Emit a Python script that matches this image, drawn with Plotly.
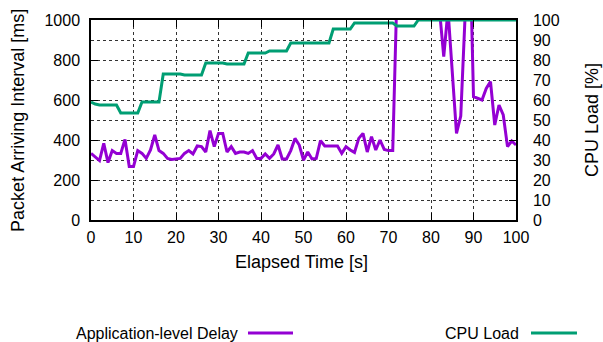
import plotly.graph_objects as go

time_s = list(range(0, 101))

delay_ms = [
    333, 315, 297, 383, 287, 347, 333, 333, 403, 267,
    267, 347, 333, 308, 350, 425, 347, 333, 308, 303,
    305, 308, 333, 347, 330, 370, 367, 340, 447, 367,
    433, 433, 340, 367, 333, 340, 340, 333, 347, 308,
    308, 330, 308, 330, 375, 305, 305, 347, 408, 375,
    300, 340, 305, 308, 397, 370, 370, 370, 370, 333,
    367, 350, 338, 408, 433, 340, 417, 350, 400, 353,
    347, 347, 1150, 1500, 1500, 1500, 1500, 1500, 1500, 1500,
    1500, 1500, 1050, 817, 1050, 720, 433, 520, 1500, 1500,
    617, 610, 600, 658, 692, 475, 575, 525, 367, 395,
    375,
]

cpu_load = [
    59, 58, 57.5, 57.5, 57.5, 57.5, 57.5, 53.5, 53.5, 53.5,
    53.5, 53.5, 59, 59, 59, 59, 59, 73, 73, 73,
    73, 73, 72.5, 72.5, 72.5, 72.5, 72.5, 78.5, 78.5, 78.5,
    78.5, 78.5, 78, 78, 78, 78, 78, 83.5, 83.5, 83.5,
    83.5, 83.5, 84.5, 84.5, 84.5, 84.5, 84.5, 88.5, 88.5, 88.5,
    88.5, 88.5, 88.5, 88.5, 88.5, 88.5, 88.5, 95.5, 95.5, 95.5,
    95.5, 95.5, 98.5, 98.5, 98.5, 98.5, 98.5, 98.5, 98.5, 98.5,
    98.5, 98.5, 97, 97, 97, 97, 97, 100, 100, 100,
    100, 100, 100, 100, 100, 100, 100, 100, 100, 100,
    100, 100, 100, 100, 100, 100, 100, 100, 100, 100,
    100,
]

x_ticks = list(range(0, 101, 10))
y_ticks = list(range(0, 1001, 200))
y2_ticks = list(range(0, 101, 10))

series_names = ["Application-level Delay", "CPU Load"]
colors = ["#9400D3", "#009E73"]

FONT = "Liberation Sans, Arial, sans-serif"

fig = go.Figure()
fig.add_trace(go.Scatter(x=time_s, y=delay_ms, mode="lines", name=series_names[0],
                         line=dict(color=colors[0], width=3), yaxis="y", showlegend=False))
fig.add_trace(go.Scatter(x=time_s, y=cpu_load, mode="lines", name=series_names[1],
                         line=dict(color=colors[1], width=3), yaxis="y2", showlegend=False))

fig.update_layout(
    width=603, height=342,
    margin=dict(l=91, r=87, t=20, b=122),
    paper_bgcolor="white", plot_bgcolor="white",
    font=dict(family=FONT, size=16, color="black"),
    xaxis=dict(range=[0, 100], tickvals=x_ticks, ticks="inside", ticklen=7, tickcolor="black",
               showline=True, linecolor="black", linewidth=1.5, mirror="ticks",
               showgrid=True, gridcolor="#333", griddash="dot", gridwidth=1,
               zeroline=False, ticklabelstandoff=2, tickfont=dict(size=16)),
    yaxis=dict(range=[0, 1000], tickvals=y_ticks, ticks="inside", ticklen=7, tickcolor="black",
               showline=True, linecolor="black", linewidth=1.5, showgrid=False,
               zeroline=False, ticklabelstandoff=6, tickfont=dict(size=16)),
    yaxis2=dict(range=[0, 100], tickvals=y2_ticks, ticks="inside", ticklen=7, tickcolor="black",
                overlaying="y", side="right", showline=True, linecolor="black", linewidth=1.5,
                showgrid=True, gridcolor="#333", griddash="dot", gridwidth=1,
                zeroline=False, ticklabelstandoff=12, tickfont=dict(size=16)),
)

annotations = [
    dict(text="Packet Arriving Interval [ms]", x=-0.172, y=0.5, textangle=-90,
         xanchor="center", yanchor="middle", font=dict(size=18)),
    dict(text="CPU Load [%]", x=1.179, y=0.5, textangle=-90,
         xanchor="center", yanchor="middle", font=dict(size=18)),
    dict(text="Elapsed Time [s]", x=0.495, y=-0.21,
         xanchor="center", yanchor="middle", font=dict(size=18)),
    dict(text=series_names[0], x=0.351, y=-0.565, xanchor="right", yanchor="middle",
         font=dict(size=16)),
    dict(text=series_names[1], x=1.012, y=-0.565, xanchor="right", yanchor="middle",
         font=dict(size=16)),
]
for a in annotations:
    a.update(xref="paper", yref="paper", showarrow=False)
fig.update_layout(annotations=annotations)

legend_samples = [(0.3694, 0.4753, colors[0]), (1.0353, 1.1435, colors[1])]
for x0, x1, c in legend_samples:
    fig.add_shape(type="line", xref="paper", yref="paper", x0=x0, x1=x1, y0=-0.565, y1=-0.565,
                  line=dict(color=c, width=3))

fig.write_html("out.html")
